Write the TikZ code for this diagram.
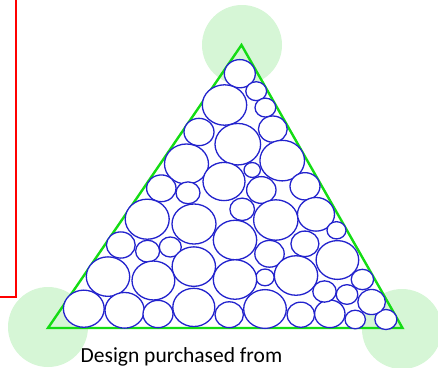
\documentclass[tikz,border=0pt]{standalone}
\usepackage{fontspec}
\setmainfont{Carlito}
\definecolor{cblue}{RGB}{35,35,205}
\definecolor{cgreen}{RGB}{20,220,20}
\definecolor{lgreen}{RGB}{214,246,214}
\definecolor{cred}{RGB}{255,0,0}
\tikzset{
  ball/.style={draw=cblue, line width=1.3pt, fill=white},
  blob/.style={fill=lgreen, draw=none},
  tri/.style={draw=cgreen, line width=2.4pt, line join=miter},
  frameline/.style={draw=cred, line width=1.5pt},
}
\newcommand{\bc}[3]{\path[ball] (#1,#2) ellipse [x radius=#3, y radius=0.91*#3];}
\begin{document}
\begin{tikzpicture}[x=1pt,y=-1pt]
\useasboundingbox (0,0) rectangle (438,367);
\clip (0,0) rectangle (438,367);
% light green blobs
\path[blob] (242,45) circle [radius=40];
\path[blob] (48,327) circle [radius=40];
\path[blob] (402,329) circle [radius=40];
% red frame corner
\draw[frameline] (16,-5) -- (16,297) -- (-5,297);
% triangle
\coordinate (A) at (241.5,45);
\coordinate (B) at (402.5,328);
\coordinate (C) at (48,328);
\draw[tri] (A) -- (B) -- (C) -- cycle;
% packed circles
\bc{239.8}{73.7}{15.5}
\bc{256.2}{91.2}{10.4}
\bc{265.4}{107.6}{10.4}
\bc{272.8}{129.1}{14.4}
\bc{224.5}{105}{22.2}
\bc{199}{132}{15}
\bc{237.8}{144.2}{22.8}
\bc{186.5}{164}{22}
\bc{282.2}{160.6}{22.3}
\bc{252.2}{170}{8.2}
\bc{161.3}{188.3}{14.7}
\bc{188}{192.8}{12}
\bc{224}{181.5}{21}
\bc{261.3}{190}{14.7}
\bc{305}{186.3}{15}
\bc{147.2}{219.2}{22}
\bc{194}{224}{22}
\bc{242.2}{209.3}{12.3}
\bc{275.8}{220}{22.2}
\bc{316}{214.3}{18.5}
\bc{336.5}{230.3}{9.5}
\bc{120.8}{245}{14.4}
\bc{147.6}{251.2}{12}
\bc{170.3}{247}{11}
\bc{193.8}{266.6}{21.7}
\bc{235}{240}{21.7}
\bc{269.5}{253.8}{14.7}
\bc{265}{277.4}{9.2}
\bc{304.9}{243.8}{14}
\bc{337.4}{260}{21.3}
\bc{108}{276.6}{21.7}
\bc{153.4}{280.5}{21.4}
\bc{235}{279.5}{21.7}
\bc{296}{275.5}{21.7}
\bc{362.4}{279.5}{11.2}
\bc{83.8}{308.7}{20.4}
\bc{124.6}{310.3}{19.6}
\bc{158}{314}{15}
\bc{193.8}{307.4}{21}
\bc{229.2}{314.7}{14.2}
\bc{265}{309}{21.3}
\bc{300.8}{314.7}{13.8}
\bc{329.8}{313.8}{15.2}
\bc{355.2}{319.5}{10.2}
\bc{385.9}{319.5}{11}
\bc{324.5}{291.5}{11.7}
\bc{347}{294.5}{10.8}
\bc{371.6}{302}{13.8}
% caption
\node[anchor=base west, inner sep=0pt, font=\fontsize{21.5}{25}\selectfont] (cap) at (80.5,362) {Design purchased from};
\end{tikzpicture}
\end{document}
